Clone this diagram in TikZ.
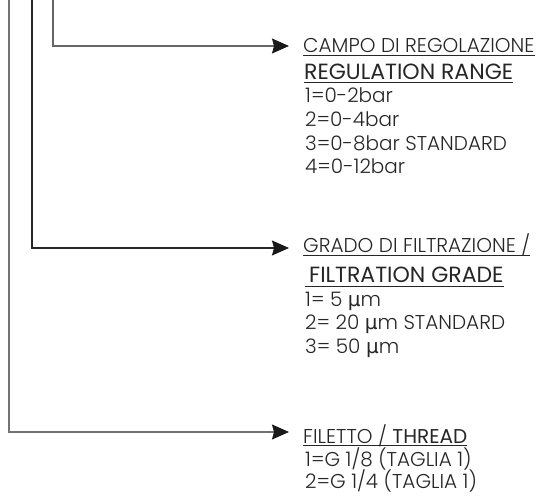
\documentclass[tikz,border=0pt]{standalone}
\usepackage{fontspec}
\setmainfont{Poppins}
\newfontfamily\lightf{Poppins Light}
\newfontfamily\symf{DejaVu Sans}
\usetikzlibrary{arrows.meta}
\newcommand{\mum}{{\symf μ}m}
\begin{document}
\begin{tikzpicture}[x=1pt,y=-1pt,
  conn/.style={line width=1.3pt,-{Stealth[length=17pt,width=15pt,inset=2pt,color=black!90,fill=black!90]}},
  lbl/.style={anchor=base west,inner sep=0pt,text=black!85,font=\lightf\fontsize{20}{24}\selectfont},
  hd/.style={anchor=base west,inner sep=0pt,text=black!85,font=\fontsize{22}{26}\selectfont},
  ul/.style={line width=0.8pt,black!85}]
\useasboundingbox (0,0) rectangle (544,497);
% free ends at top
\coordinate (top1) at (53,0);
\coordinate (top2) at (32,0);
\coordinate (top3) at (9,0);
\coordinate (tip1) at (289,46);
\coordinate (tip2) at (289,248);
\coordinate (tip3) at (289,432);
% block 1
\node[lbl] (campo) at (303,53) {CAMPO DI REGOLAZIONE};
\node[hd] (regul) at (304,80) {REGULATION RANGE};
\node[lbl] (r1) at (305,103) {1=0-2bar};
\node[lbl] (r2) at (305,127) {2=0-4bar};
\node[lbl] (r3) at (305,151) {3=0-8bar STANDARD};
\node[lbl] (r4) at (305,174) {4=0-12bar};
% block 2
\node[lbl] (grado) at (303,253) {GRADO DI FILTRAZIONE /};
\node[hd] (filtr) at (309,283) {FILTRATION GRADE};
\node[lbl] (f1) at (305,307) {1= 5 \mum};
\node[lbl] (f2) at (305,330) {2= 20 \mum{} STANDARD};
\node[lbl] (f3) at (305,353) {3= 50 \mum};
% block 3
\node[lbl] (filetto) at (303,443) {FILETTO / {\normalfont THREAD}};
\node[lbl] (t1) at (305,466) {1=G 1/8 (TAGLIA 1)};
\node[lbl] (t2) at (305,488.5) {2=G 1/4 (TAGLIA 1)};
% underlines
\draw[ul] ([yshift=-2.5pt]campo.base west) -- ([yshift=-2.5pt]campo.base east);
\draw[ul] ([yshift=-2.5pt]regul.base west) -- ([yshift=-2.5pt]regul.base east);
\draw[ul] ([xshift=-4pt,yshift=-3pt]filtr.base west) -- ([yshift=-3pt]filtr.base east);
\draw[ul] ([yshift=-2.5pt]grado.base west) -- ([yshift=-2.5pt]grado.base east);
\draw[ul] ([yshift=-2.5pt]filetto.base west) -- ([yshift=-2.5pt]filetto.base east);
% connectors
\draw[conn,draw=black!60] (top1) |- (tip1);
\draw[conn,draw=black!85] (top2) |- (tip2);
\draw[conn,draw=black!55] (top3) |- (tip3);
\end{tikzpicture}
\end{document}
